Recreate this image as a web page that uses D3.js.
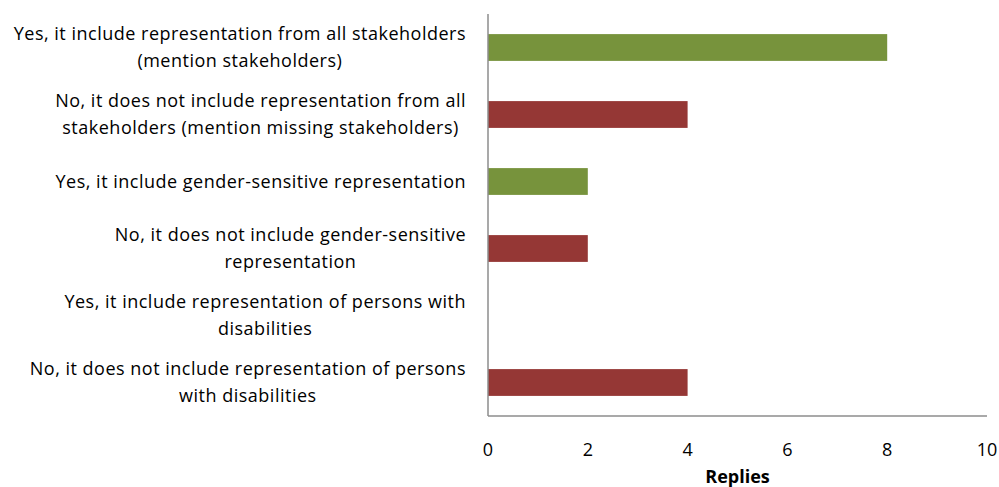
<!DOCTYPE html>
<html>
<head>
<meta charset="utf-8">
<script src="https://cdn.jsdelivr.net/npm/d3@7"></script>
<style>
  html, body { margin: 0; padding: 0; background: #fff; }
  svg { display: block; font-family: "Open Sans", sans-serif; }
</style>
</head>
<body>
<svg id="chart" width="999" height="487"></svg>
<script>
// Survey answers (line breaks mark where each label wraps)
const categories = [
  "Yes, it include representation from all stakeholders\n(mention stakeholders)",
  "No, it does not include representation from all\nstakeholders (mention missing stakeholders)",
  "Yes, it include gender-sensitive representation",
  "No, it does not include gender-sensitive\nrepresentation",
  "Yes, it include representation of persons with\ndisabilities",
  "No, it does not include representation of persons\nwith disabilities"
];
const replies = [8, 4, 2, 2, 0, 4];
const answerType = ["yes", "no", "yes", "no", "yes", "no"];
const xTicks = [0, 2, 4, 6, 8, 10];
const axisTitle = "Replies";

const colors = { yes: "#77933C", no: "#953735" };
const margin = { left: 488, right: 12, top: 14, bottom: 71 };
const width = 999, height = 487;
const fontSize = 18;
const letterSpacing = 0.5;

const svg = d3.select("#chart");

const x = d3.scaleLinear()
  .domain([0, 10])
  .range([margin.left, width - margin.right]);

const y = d3.scaleBand()
  .domain(d3.range(categories.length))
  .range([margin.top, height - margin.bottom])
  .paddingInner(0.6)
  .paddingOuter(0.3);

const band = d3.scaleBand()
  .domain(d3.range(categories.length))
  .range([margin.top, height - margin.bottom]);

// bars
svg.append("g").selectAll("rect")
  .data(replies)
  .join("rect")
  .attr("x", x(0))
  .attr("y", (d, i) => y(i))
  .attr("width", d => x(d) - x(0))
  .attr("height", y.bandwidth())
  .attr("fill", (d, i) => colors[answerType[i]]);

// axes lines
svg.append("line")
  .attr("x1", x(0)).attr("x2", x(0))
  .attr("y1", margin.top).attr("y2", height - margin.bottom)
  .attr("stroke", "#8c8c8c").attr("stroke-width", 1.5);
svg.append("line")
  .attr("x1", x(0)).attr("x2", x(10))
  .attr("y1", height - margin.bottom).attr("y2", height - margin.bottom)
  .attr("stroke", "#8c8c8c").attr("stroke-width", 1.5);

// x tick labels
svg.append("g").selectAll("text")
  .data(xTicks)
  .join("text")
  .attr("x", d => x(d))
  .attr("y", 456)
  .attr("text-anchor", "middle")
  .attr("font-size", fontSize)
  .attr("fill", "#000")
  .text(d => d);

svg.append("text")
  .attr("x", (x(0) + x(10)) / 2)
  .attr("y", 483)
  .attr("text-anchor", "middle")
  .attr("font-size", fontSize)
  .attr("font-weight", "bold")
  .text(axisTitle);

// category labels: block right-aligned, lines centred within block
const labelRight = 466;
const lineH = 27;
const lg = svg.append("g")
  .attr("font-size", fontSize)
  .attr("letter-spacing", letterSpacing)
  .attr("fill", "#000");
categories.forEach((c, i) => {
  const lines = c.split("\n");
  const cy = band(i) + band.bandwidth() / 2;
  const g = lg.append("g");
  const texts = lines.map((ln, k) => g.append("text")
    .attr("y", cy + (k - (lines.length - 1) / 2) * lineH)
    .attr("dy", "0.35em")
    .text(ln));
  const widths = texts.map(t => t.node().getComputedTextLength());
  const maxW = d3.max(widths);
  texts.forEach(t => t.attr("x", labelRight - maxW / 2).attr("text-anchor", "middle"));
});
</script>
</body>
</html>
